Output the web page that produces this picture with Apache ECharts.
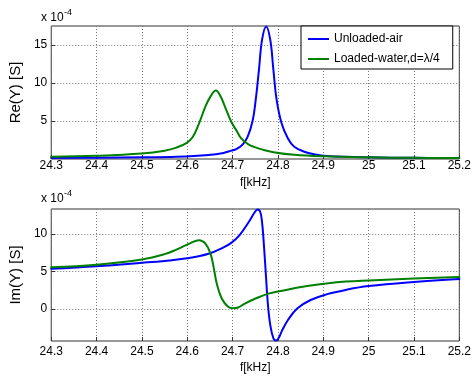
<!DOCTYPE html>
<html><head><meta charset="utf-8">
<script src="https://cdn.jsdelivr.net/npm/echarts@6/dist/echarts.min.js"></script>
<style>html,body{margin:0;padding:0;background:#fff}#c{width:474px;height:383px}</style>
</head><body><div id="c"></div>
<script>
// ---- data (values in units of 1e-4 S) ----
const xTicks = [24.3, 24.4, 24.5, 24.6, 24.7, 24.8, 24.9, 25.0, 25.1, 25.2];
const reTicks = [5, 10, 15];
const imTicks = [0, 5, 10];
const seriesNames = ['Unloaded-air', 'Loaded-water,d=\u03bb/4'];

const reAirF = [24.30,24.40,24.50,24.576,24.647,24.68,24.697,24.708,24.722,24.733,24.744,24.751,24.758,24.765,24.774,24.783,24.790,24.797,24.808,24.822,24.836,24.858,24.886,24.907,24.95,25.00,25.10,25.20];
const reAirV = [0.13,0.17,0.22,0.3,0.53,0.8,1.1,1.3,1.9,2.9,5.0,7.8,11.7,15.7,17.45,15.7,11.7,7.8,4.7,2.7,1.6,0.96,0.55,0.4,0.28,0.22,0.15,0.12];

const reWaterF = [24.30,24.40,24.50,24.55,24.576,24.598,24.612,24.626,24.640,24.652,24.663,24.673,24.683,24.697,24.708,24.719,24.733,24.747,24.768,24.79,24.836,24.90,25.00,25.10,25.20];
const reWaterV = [0.3,0.42,0.72,1.1,1.5,2.1,2.9,4.7,6.9,8.3,9.0,8.3,6.9,4.9,3.8,2.7,2.0,1.6,1.2,0.9,0.55,0.35,0.22,0.15,0.12];

const imAirF = [24.30,24.40,24.50,24.55,24.60,24.647,24.68,24.697,24.715,24.736,24.748,24.755,24.761,24.765,24.768,24.773,24.778,24.783,24.790,24.796,24.802,24.808,24.822,24.843,24.872,24.907,24.95,25.00,25.10,25.20];
const imAirV = [5.35,5.7,6.15,6.4,6.75,7.35,8.2,8.8,9.8,11.6,12.8,13.25,12.9,11.5,9.4,4.9,0.5,-2.1,-3.9,-4.2,-3.8,-3.0,-1.46,0.1,1.2,1.95,2.55,3.05,3.6,4.0];

const imWaterF = [24.30,24.40,24.50,24.55,24.576,24.605,24.626,24.640,24.651,24.658,24.665,24.676,24.690,24.701,24.712,24.726,24.747,24.779,24.815,24.858,24.907,24.95,25.00,25.10,25.20];
const imWaterV = [5.55,5.9,6.6,7.3,7.9,8.7,9.15,8.7,7.4,5.6,3.4,1.4,0.3,0.1,0.2,0.7,1.3,2.05,2.5,3.0,3.4,3.65,3.8,4.05,4.25];

const zip = (f, v) => f.map((x, i) => [x, v[i]]);
const FONT = "'Liberation Sans', Arial, sans-serif";
const colors = ['#0000ff', '#008000'];

function xAxisCfg(gridIndex, margin, nameGap) {
  return {
    type: 'value', gridIndex, min: 24.3, max: 25.2,
    name: 'f[kHz]', nameLocation: 'middle', nameGap,
    nameTextStyle: { fontFamily: FONT, fontSize: 12, color: '#000' },
    axisLine: { show: false, onZero: false },
    axisTick: { show: true, inside: true, length: 4, customValues: xTicks, lineStyle: { color: '#333' } },
    axisLabel: { customValues: xTicks, margin, fontFamily: FONT, fontSize: 12, color: '#000',
      formatter: v => String(+v.toFixed(2)) },
    splitLine: { show: true, lineStyle: { type: [1, 2], color: '#777', width: 1 } }
  };
}
function yAxisCfg(gridIndex, min, max, ticks, name) {
  return {
    type: 'value', gridIndex, min, max,
    name, nameLocation: 'middle', nameGap: 16,
    nameTextStyle: { fontFamily: FONT, fontSize: 15, color: '#000' },
    axisLine: { show: false },
    axisTick: { show: true, inside: true, length: 4, customValues: ticks, lineStyle: { color: '#333' } },
    axisLabel: { customValues: ticks, margin: 4, fontFamily: FONT, fontSize: 12, color: '#000' },
    splitLine: { show: true, lineStyle: { type: [1, 2], color: '#777', width: 1 } }
  };
}
function lineSeries(name, idx, data, color) {
  return {
    name, type: 'line', xAxisIndex: idx, yAxisIndex: idx, data,
    symbol: 'none', showSymbol: false, smooth: 0.4, clip: true,
    lineStyle: { color, width: 2, join: 'round', cap: 'round' }, itemStyle: { color }
  };
}

const chart = echarts.init(document.getElementById('c'));
chart.setOption({
  animation: false,
  backgroundColor: '#fff',
  grid: [
    { left: 41, right: 12, top: 26, height: 133, show: true, borderColor: '#333', borderWidth: 1, backgroundColor: 'transparent' },
    { left: 41, right: 12, top: 209, height: 132, show: true, borderColor: '#333', borderWidth: 1, backgroundColor: 'transparent' }
  ],
  xAxis: [xAxisCfg(0, 1, 18), xAxisCfg(1, 5, 21)],
  yAxis: [yAxisCfg(0, 0, 17.5, reTicks, 'Re(Y) [S]'), yAxisCfg(1, -4.25, 13.3, imTicks, 'Im(Y) [S]')],
  legend: {
    data: seriesNames, orient: 'vertical', left: 301, top: 26,
    padding: [6, 13, 3, 7], itemGap: 6, itemWidth: 21, itemHeight: 2, icon: 'rect',
    backgroundColor: '#fff', borderColor: '#000', borderWidth: 1, borderRadius: 0,
    selectedMode: false,
    textStyle: { fontFamily: FONT, fontSize: 12, color: '#000', lineHeight: 14 }
  },
  graphic: [
    { type: 'text', left: 41, top: 12, style: { text: 'x 10', font: "12px " + FONT, fill: '#000' } },
    { type: 'text', left: 64, top: 8, style: { text: '-4', font: "9px " + FONT, fill: '#000' } },
    { type: 'text', left: 41, top: 193, style: { text: 'x 10', font: "12px " + FONT, fill: '#000' } },
    { type: 'text', left: 64, top: 189, style: { text: '-4', font: "9px " + FONT, fill: '#000' } }
  ],
  series: [
    lineSeries(seriesNames[0], 0, zip(reAirF, reAirV), colors[0]),
    lineSeries(seriesNames[1], 0, zip(reWaterF, reWaterV), colors[1]),
    lineSeries(seriesNames[0], 1, zip(imAirF, imAirV), colors[0]),
    lineSeries(seriesNames[1], 1, zip(imWaterF, imWaterV), colors[1])
  ]
});
</script></body></html>
